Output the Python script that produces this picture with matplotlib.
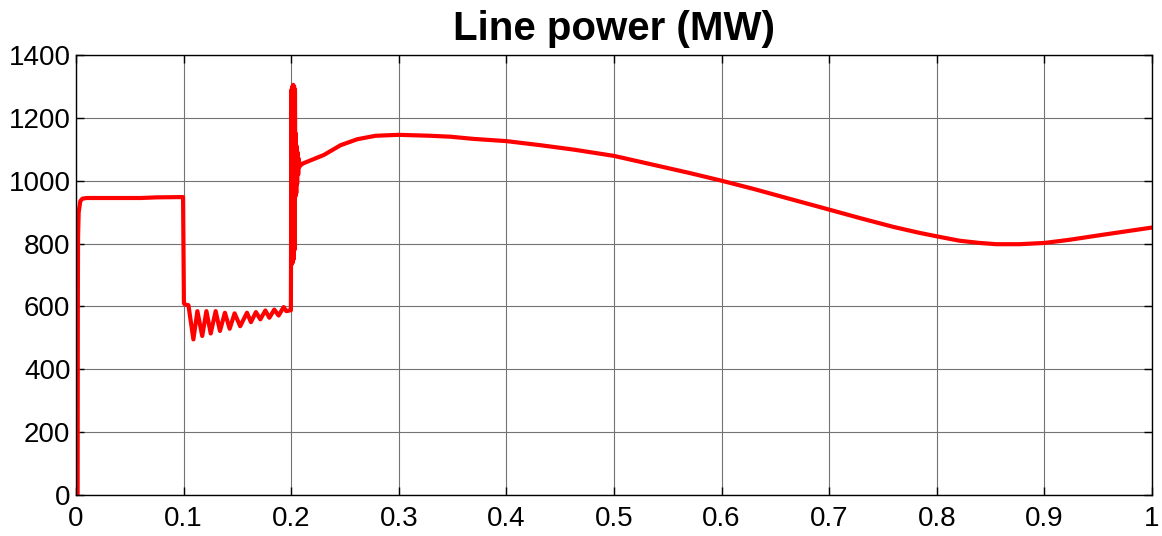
import matplotlib
matplotlib.use("Agg")
import matplotlib.pyplot as plt

plt.rcParams["font.family"] = ["Liberation Sans", "DejaVu Sans"]

# start-up and first steady state
t_start = [0.0015, 0.0017, 0.0019, 0.0025, 0.004, 0.006, 0.01, 0.06, 0.075, 0.0995]
p_start = [0, 600, 820, 900, 935, 943, 945, 945, 947, 948]

# drop at 0.1 s and the decaying oscillation
t_dip = [0.1003, 0.1012, 0.1045, 0.1091, 0.1128, 0.1173, 0.1212, 0.1252, 0.1298,
         0.1338, 0.1384, 0.1428, 0.1474, 0.1526, 0.1589, 0.1626, 0.1672, 0.1713,
         0.1760, 0.1797, 0.1843, 0.1883, 0.1930, 0.1955, 0.1997]
p_dip = [610, 606, 604, 495, 585, 506, 585, 514, 585, 522, 580, 529, 578, 537,
         580, 550, 582, 559, 587, 564, 590, 571, 598, 585, 588]

# spike at 0.2 s
t_spike = [0.2003, 0.2007, 0.2011, 0.2015, 0.2019, 0.2023, 0.2027, 0.2031, 0.2035,
           0.2039, 0.2043, 0.2047, 0.2051, 0.2055, 0.2060, 0.2065, 0.2070, 0.2078,
           0.2090]
p_spike = [1290, 735, 1300, 740, 1305, 750, 1300, 780, 1290, 950, 1150, 960, 1110,
           990, 1090, 1020, 1070, 1045, 1050]

# recovery
t_rec = [0.211, 0.2304, 0.2459, 0.2614, 0.2784, 0.30, 0.3294, 0.348, 0.3697, 0.40,
         0.4316, 0.4625, 0.50, 0.54, 0.5709, 0.60, 0.6296, 0.6604, 0.6851, 0.70,
         0.7287, 0.7597, 0.784, 0.80, 0.8212, 0.8398, 0.8553, 0.8769, 0.90, 0.9233,
         0.9542, 1.0]
p_rec = [1055, 1082, 1113, 1132, 1143, 1146, 1143, 1140, 1133, 1126, 1113, 1099,
         1079, 1048, 1024, 1000, 974, 945, 922, 908, 881, 853, 834, 823, 809, 802,
         798, 798, 802, 812, 828, 851]

x_ticks = [0, 0.1, 0.2, 0.3, 0.4, 0.5, 0.6, 0.7, 0.8, 0.9, 1]
x_labels = ["0", "0.1", "0.2", "0.3", "0.4", "0.5", "0.6", "0.7", "0.8", "0.9", "1"]
y_ticks = [0, 200, 400, 600, 800, 1000, 1200, 1400]

t = t_start + t_dip + t_spike + t_rec
p = p_start + p_dip + p_spike + p_rec

fig = plt.figure(figsize=(11.62, 5.36), dpi=100)
ax = fig.add_axes([76 / 1162, 1 - 495 / 536, 1076 / 1162, 440 / 536])

ax.plot(t, p, color="#ff0000", lw=3.0, solid_joinstyle="round")

ax.set_xlim(0, 1)
ax.set_ylim(0, 1400)
ax.set_xticks(x_ticks)
ax.set_xticklabels(x_labels)
ax.set_yticks(y_ticks)
ax.grid(True, color="0.45", lw=0.8)
ax.tick_params(direction="in", length=6, width=1, top=True, right=True,
               labelsize=20)
ax.tick_params(axis="x", pad=8)
ax.tick_params(axis="y", pad=4)
for s in ax.spines.values():
    s.set_linewidth(1.0)

ax.set_title("Line power (MW)", fontsize=29, fontweight="bold", pad=11)

fig.savefig("out.png", dpi=100)
